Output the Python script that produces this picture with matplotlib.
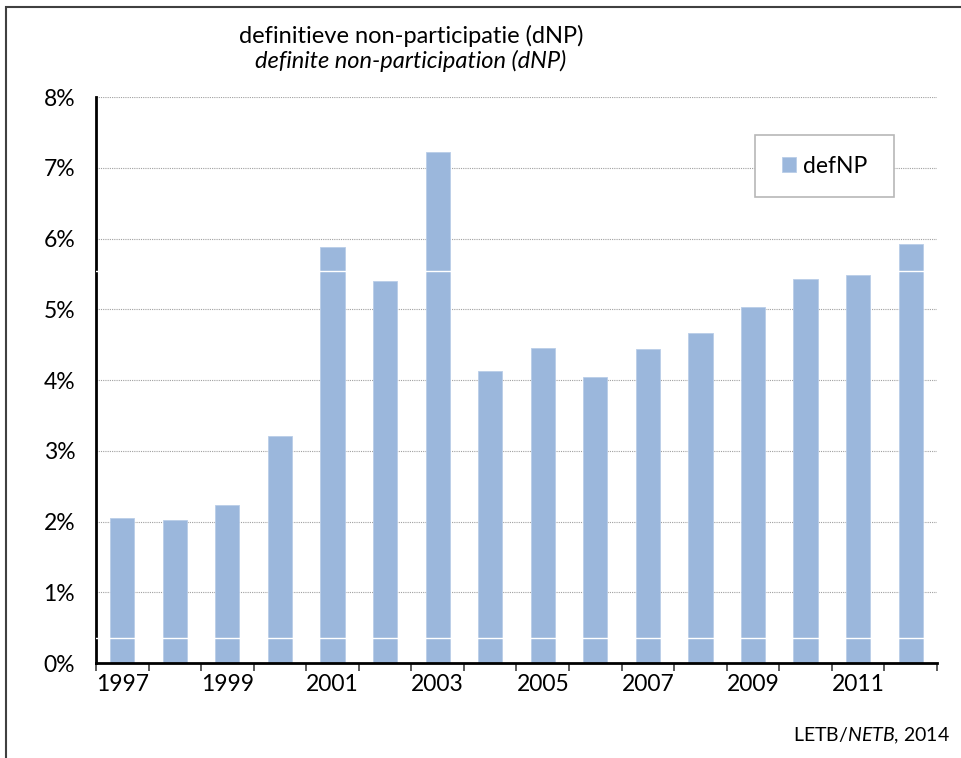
import matplotlib
matplotlib.use("Agg")
from matplotlib import pyplot as plt
from matplotlib.patches import Rectangle

plt.rcParams['font.family'] = ['Lato', 'DejaVu Sans']
plt.rcParams['mathtext.fontset'] = 'custom'
plt.rcParams['mathtext.rm'] = 'Lato'
plt.rcParams['mathtext.it'] = 'Lato:italic'

years = list(range(1997, 2013))
defnp = [2.05, 2.02, 2.23, 3.21, 5.88, 5.40, 7.22, 4.13,
         4.45, 4.04, 4.44, 4.66, 5.03, 5.43, 5.48, 5.92]
year_labels = [str(y) if y % 2 == 1 else "" for y in years]
y_ticks = list(range(0, 9))

bar_color = "#9bb7dc"

fig = plt.figure(figsize=(9.62, 7.58), dpi=100)
ax = fig.add_axes([0.0998, 0.1253, 0.8742, 0.7467])

x = list(range(len(years)))
ax.bar(x, defnp, width=0.46, color=bar_color, edgecolor="#b9cde8",
       linewidth=0.6, label="defNP", zorder=2)
# faint white lines that cross the bars in the original
for v in [0.36, 5.54]:
    ax.axhline(v, color="white", linewidth=1.0, zorder=3)

ax.set_xlim(-0.5, len(years) - 0.5)
ax.set_ylim(0, 8)
ax.set_yticks(y_ticks)
ax.set_yticklabels([f"{t}%" for t in y_ticks], fontsize=16.5)
ax.tick_params(axis="y", length=0, pad=15)
ax.yaxis.grid(True, color="#a0a0a0", linestyle=(0, (1, 1)), linewidth=0.8, zorder=0)
ax.set_axisbelow(True)

ax.set_xticks(x)
ax.set_xticklabels(year_labels, fontsize=16.5)
ax.tick_params(axis="x", length=0, pad=8)
ax.set_xticks([i - 0.5 for i in range(len(years) + 1)], minor=True)
ax.tick_params(axis="x", which="minor", length=6, width=1.2, color="#404040")

for s in ["top", "right"]:
    ax.spines[s].set_visible(False)
ax.spines["left"].set_linewidth(2)
ax.spines["bottom"].set_linewidth(2)

# legend box drawn separately so its proportions match the original
ax.add_patch(Rectangle((0.7836, 0.8233), 0.1653, 0.1095, transform=ax.transAxes,
                       facecolor="white", edgecolor="#b8b8b8", linewidth=1.2,
                       zorder=4, clip_on=False))
leg = ax.legend(loc="center", bbox_to_anchor=(0.8662, 0.878), fontsize=16.5,
                frameon=False, handlelength=0.6, handleheight=0.6,
                handletextpad=0.3, borderpad=0, borderaxespad=0)
leg.set_zorder(5)

fig.text(0.427, 0.953, "definitieve non-participatie (dNP)", ha="center",
         va="center", fontsize=17)
fig.text(0.427, 0.919, "definite non-participation (dNP)", ha="center",
         va="center", fontsize=17, style="italic")

fig.text(0.988, 0.022, r"LETB/$\mathit{NETB}$, 2014", ha="right",
         va="baseline", fontsize=14)

# outer frame of the original picture
fig.add_artist(Rectangle((6 / 962, -0.1), 1.2, 1.1 - 7 / 758,
                         transform=fig.transFigure, fill=False,
                         edgecolor="#404040", linewidth=1.5))

fig.savefig("out.png", dpi=100)
